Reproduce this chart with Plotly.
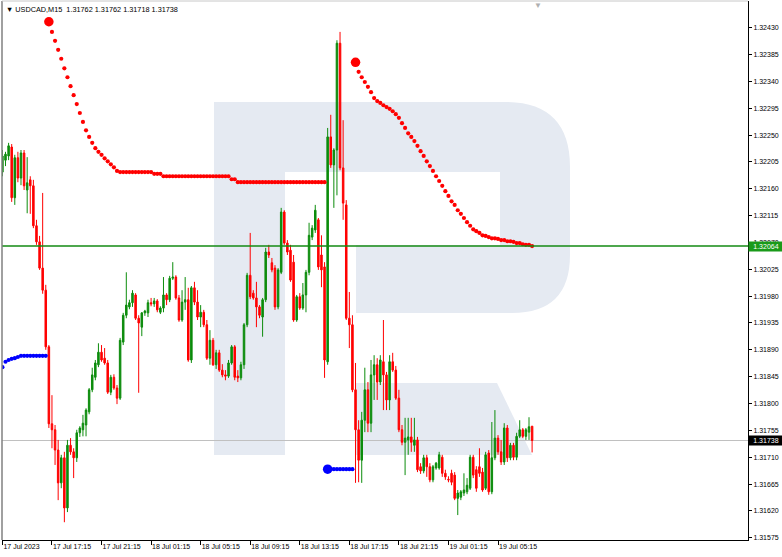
import pandas as pd
import plotly.graph_objects as go

symbol = "USDCAD,M15"
first_bar = "2023-07-17 13:15"
bar_minutes = 15

opens = [
    1.32188, 1.32208, 1.32215, 1.32230, 1.32145, 1.32212, 1.32178, 1.32220, 1.32158, 1.32175,
    1.32165, 1.32098, 1.32071, 1.32027, 1.31990, 1.31895, 1.31766, 1.31756, 1.31722, 1.31667,
    1.31709, 1.31625, 1.31730, 1.31719, 1.31709, 1.31751, 1.31756, 1.31764, 1.31786, 1.31823,
    1.31844, 1.31865, 1.31886, 1.31876, 1.31868, 1.31819, 1.31844, 1.31826, 1.31809, 1.31903,
    1.31948, 1.31962, 1.31969, 1.31982, 1.31943, 1.31928, 1.31952, 1.31952, 1.31969, 1.31967,
    1.31972, 1.31953, 1.31960, 1.31982, 1.31974, 1.32010, 1.32012, 1.31977, 1.31940, 1.31970,
    1.31974, 1.31873, 1.31994, 1.31970, 1.31945, 1.31953, 1.31932, 1.31876, 1.31906, 1.31865,
    1.31885, 1.31856, 1.31848, 1.31846, 1.31868, 1.31895, 1.31846, 1.31843, 1.31865, 1.31932,
    1.32015, 1.31985, 1.31977, 1.31962, 1.31945, 1.31974, 1.32054, 1.32036, 1.32027, 1.31962,
    1.32020, 1.32121, 1.32069, 1.32057, 1.32037, 1.31940, 1.31979, 1.31960, 1.31982, 1.32020,
    1.32079, 1.32091, 1.32108, 1.32049, 1.32029, 1.31870, 1.32247, 1.32200, 1.32225, 1.32404,
    1.32195, 1.32133, 1.31943, 1.31932, 1.31823, 1.31756, 1.31705, 1.31772, 1.31823, 1.31767,
    1.31848, 1.31865, 1.31836, 1.31870, 1.31848, 1.31806, 1.31870, 1.31856, 1.31809, 1.31756,
    1.31735, 1.31739, 1.31744, 1.31730, 1.31739, 1.31694, 1.31687, 1.31709, 1.31694, 1.31672,
    1.31692, 1.31692, 1.31710, 1.31683, 1.31673, 1.31683, 1.31680, 1.31641, 1.31643, 1.31650,
    1.31652, 1.31658, 1.31710, 1.31689, 1.31694, 1.31685, 1.31658, 1.31717, 1.31652, 1.31709,
    1.31742, 1.31719, 1.31702, 1.31759, 1.31709, 1.31730, 1.31710, 1.31745, 1.31756, 1.31745,
    1.31752, 1.31762,
]
highs = [
    1.32225, 1.32222, 1.32237, 1.32235, 1.32217, 1.32222, 1.32225, 1.32225, 1.32213, 1.32181,
    1.32175, 1.32108, 1.32081, 1.32153, 1.31999, 1.31898, 1.31814, 1.31764, 1.31739, 1.31714,
    1.31719, 1.31739, 1.31742, 1.31725, 1.31756, 1.31762, 1.31781, 1.31792, 1.31826, 1.31860,
    1.31873, 1.31901, 1.31898, 1.31893, 1.31873, 1.31848, 1.31849, 1.31831, 1.31910, 1.31952,
    1.32020, 1.31974, 1.31990, 1.31985, 1.31948, 1.31953, 1.31957, 1.31974, 1.31977, 1.31977,
    1.31975, 1.31963, 1.32012, 1.31985, 1.32014, 1.32037, 1.32015, 1.31982, 1.31990, 1.32012,
    1.31994, 1.31997, 1.32004, 1.31990, 1.31965, 1.31957, 1.31940, 1.31923, 1.31910, 1.31890,
    1.31890, 1.31866, 1.31856, 1.31873, 1.31898, 1.31898, 1.31856, 1.31870, 1.31935, 1.32019,
    1.32086, 1.31990, 1.32004, 1.31965, 1.31977, 1.32061, 1.32066, 1.32044, 1.32032, 1.32027,
    1.32128, 1.32124, 1.32074, 1.32066, 1.32049, 1.31982, 1.31985, 1.32002, 1.32024, 1.32103,
    1.32099, 1.32133, 1.32111, 1.32082, 1.32037, 1.32262, 1.32284, 1.32228, 1.32409, 1.32423,
    1.32275, 1.32141, 1.31987, 1.31948, 1.31868, 1.31772, 1.31786, 1.31860, 1.31836, 1.31873,
    1.31881, 1.31876, 1.31881, 1.31940, 1.31853, 1.31881, 1.31885, 1.31863, 1.31823, 1.31764,
    1.31776, 1.31776, 1.31776, 1.31776, 1.31744, 1.31700, 1.31714, 1.31714, 1.31700, 1.31697,
    1.31702, 1.31719, 1.31714, 1.31689, 1.31678, 1.31689, 1.31685, 1.31655, 1.31655, 1.31683,
    1.31675, 1.31714, 1.31714, 1.31695, 1.31725, 1.31692, 1.31719, 1.31722, 1.31769, 1.31789,
    1.31747, 1.31739, 1.31767, 1.31764, 1.31734, 1.31734, 1.31751, 1.31772, 1.31759, 1.31759,
    1.31777, 1.31762,
]
lows = [
    1.32181, 1.32198, 1.32208, 1.32138, 1.32133, 1.32171, 1.32166, 1.32158, 1.32119, 1.32118,
    1.32094, 1.32066, 1.32024, 1.31984, 1.31890, 1.31759, 1.31725, 1.31697, 1.31638, 1.31658,
    1.31601, 1.31618, 1.31714, 1.31675, 1.31702, 1.31744, 1.31745, 1.31745, 1.31782, 1.31819,
    1.31839, 1.31861, 1.31870, 1.31865, 1.31816, 1.31814, 1.31823, 1.31799, 1.31806, 1.31898,
    1.31943, 1.31958, 1.31962, 1.31940, 1.31818, 1.31913, 1.31947, 1.31945, 1.31963, 1.31962,
    1.31953, 1.31950, 1.31953, 1.31965, 1.31970, 1.32007, 1.31974, 1.31937, 1.31937, 1.31957,
    1.31870, 1.31868, 1.31965, 1.31940, 1.31928, 1.31928, 1.31873, 1.31865, 1.31863, 1.31858,
    1.31853, 1.31844, 1.31839, 1.31843, 1.31865, 1.31839, 1.31836, 1.31839, 1.31858, 1.31928,
    1.31975, 1.31974, 1.31928, 1.31943, 1.31912, 1.31970, 1.32044, 1.32020, 1.31957, 1.31958,
    1.32017, 1.32066, 1.32049, 1.32004, 1.31937, 1.31937, 1.31957, 1.31957, 1.31953, 1.32015,
    1.32074, 1.32086, 1.32024, 1.31995, 1.31843, 1.31865, 1.32195, 1.32128, 1.32149, 1.32191,
    1.32108, 1.31940, 1.31893, 1.31819, 1.31667, 1.31668, 1.31667, 1.31752, 1.31752, 1.31752,
    1.31806, 1.31806, 1.31831, 1.31789, 1.31789, 1.31789, 1.31853, 1.31806, 1.31752, 1.31730,
    1.31680, 1.31714, 1.31719, 1.31719, 1.31685, 1.31682, 1.31683, 1.31677, 1.31668, 1.31668,
    1.31689, 1.31689, 1.31677, 1.31672, 1.31668, 1.31663, 1.31638, 1.31613, 1.31638, 1.31645,
    1.31648, 1.31655, 1.31675, 1.31652, 1.31677, 1.31652, 1.31655, 1.31647, 1.31648, 1.31705,
    1.31714, 1.31697, 1.31697, 1.31702, 1.31705, 1.31705, 1.31705, 1.31742, 1.31742, 1.31739,
    1.31739, 1.31718,
]
closes = [
    1.32215, 1.32218, 1.32232, 1.32145, 1.32212, 1.32178, 1.32220, 1.32165, 1.32170, 1.32165,
    1.32098, 1.32071, 1.32027, 1.31990, 1.31895, 1.31766, 1.31756, 1.31722, 1.31667, 1.31709,
    1.31625, 1.31730, 1.31719, 1.31709, 1.31751, 1.31759, 1.31767, 1.31789, 1.31823, 1.31848,
    1.31868, 1.31886, 1.31873, 1.31868, 1.31819, 1.31844, 1.31826, 1.31809, 1.31906, 1.31948,
    1.31965, 1.31969, 1.31985, 1.31943, 1.31935, 1.31952, 1.31955, 1.31969, 1.31967, 1.31972,
    1.31957, 1.31960, 1.31982, 1.31974, 1.32010, 1.32012, 1.31977, 1.31940, 1.31970, 1.31974,
    1.31873, 1.31994, 1.31970, 1.31945, 1.31953, 1.31932, 1.31876, 1.31906, 1.31865, 1.31885,
    1.31856, 1.31848, 1.31846, 1.31868, 1.31895, 1.31844, 1.31843, 1.31865, 1.31932, 1.32015,
    1.31979, 1.31977, 1.31962, 1.31948, 1.31974, 1.32054, 1.32049, 1.32024, 1.31962, 1.32024,
    1.32121, 1.32069, 1.32054, 1.32007, 1.31940, 1.31979, 1.31960, 1.31982, 1.32020, 1.32082,
    1.32094, 1.32124, 1.32029, 1.32024, 1.31873, 1.32247, 1.32200, 1.32225, 1.32404, 1.32195,
    1.32136, 1.31943, 1.31932, 1.31823, 1.31756, 1.31705, 1.31772, 1.31823, 1.31767, 1.31848,
    1.31865, 1.31836, 1.31873, 1.31848, 1.31806, 1.31870, 1.31856, 1.31809, 1.31756, 1.31735,
    1.31742, 1.31744, 1.31735, 1.31739, 1.31689, 1.31687, 1.31709, 1.31694, 1.31672, 1.31694,
    1.31700, 1.31714, 1.31683, 1.31677, 1.31672, 1.31668, 1.31641, 1.31650, 1.31652, 1.31655,
    1.31663, 1.31710, 1.31680, 1.31658, 1.31683, 1.31655, 1.31714, 1.31652, 1.31709, 1.31742,
    1.31719, 1.31702, 1.31759, 1.31709, 1.31730, 1.31710, 1.31745, 1.31756, 1.31745, 1.31756,
    1.31761, 1.31738,
]

# Parabolic SAR segments: (first bar index, values)
sar_below_1_start = 0
sar_below_1 = [1.31861, 1.31870, 1.31873, 1.31875, 1.31876, 1.31878, 1.31880, 1.31880,
               1.31880, 1.31880, 1.31880, 1.31880, 1.31880, 1.31880, 1.31880]
sar_above_1_start = 15
sar_above_1 = [
    1.32440, 1.32423, 1.32408, 1.32393, 1.32378, 1.32362, 1.32347, 1.32332, 1.32317, 1.32302,
    1.32287, 1.32272, 1.32258, 1.32247, 1.32237, 1.32228, 1.32222, 1.32217, 1.32211, 1.32206,
    1.32201, 1.32196, 1.32190,
    1.32188, 1.32188, 1.32188, 1.32188, 1.32188, 1.32188, 1.32188, 1.32188, 1.32188, 1.32188, 1.32188,
    1.32185, 1.32185, 1.32185,
    1.32181, 1.32181, 1.32181, 1.32181, 1.32181, 1.32181, 1.32181, 1.32181, 1.32181, 1.32181, 1.32181,
    1.32181, 1.32181, 1.32181, 1.32181, 1.32181, 1.32181, 1.32181, 1.32181, 1.32181, 1.32181, 1.32181,
    1.32176, 1.32176,
    1.32171, 1.32171, 1.32171, 1.32171, 1.32171, 1.32171, 1.32171, 1.32171, 1.32171, 1.32171,
    1.32171, 1.32171, 1.32171, 1.32171, 1.32171, 1.32171, 1.32171, 1.32171, 1.32171, 1.32171,
    1.32171, 1.32171, 1.32171, 1.32171, 1.32171, 1.32171, 1.32171, 1.32171, 1.32171,
]
sar_below_2_start = 105
sar_below_2 = [1.31690, 1.31690, 1.31690, 1.31690, 1.31690, 1.31690, 1.31690, 1.31690, 1.31690]
sar_above_2_start = 114
sar_above_2 = [
    1.32372, 1.32356, 1.32347, 1.32339, 1.32331, 1.32322, 1.32312, 1.32307, 1.32304, 1.32300,
    1.32297, 1.32294, 1.32290, 1.32285, 1.32279, 1.32270, 1.32262, 1.32253, 1.32247, 1.32240,
    1.32232, 1.32223, 1.32215, 1.32206, 1.32198, 1.32190, 1.32181, 1.32173, 1.32165, 1.32156,
    1.32148, 1.32139, 1.32133, 1.32124, 1.32118, 1.32111, 1.32104, 1.32098, 1.32092, 1.32089,
    1.32086, 1.32082, 1.32081, 1.32079, 1.32077, 1.32077, 1.32076, 1.32074, 1.32074, 1.32072,
    1.32072, 1.32071, 1.32069, 1.32069, 1.32067, 1.32066, 1.32066, 1.32064,
]

level_price = 1.32064

tick_times = ["2023-07-17 13:15", "2023-07-17 17:15", "2023-07-17 21:15", "2023-07-18 01:15",
              "2023-07-18 05:15", "2023-07-18 09:15", "2023-07-18 13:15", "2023-07-18 17:15",
              "2023-07-18 21:15", "2023-07-19 01:15", "2023-07-19 05:15"]
tick_labels = ["17 Jul 2023", "17 Jul 17:15", "17 Jul 21:15", "18 Jul 01:15", "18 Jul 05:15",
               "18 Jul 09:15", "18 Jul 13:15", "18 Jul 17:15", "18 Jul 21:15", "19 Jul 01:15",
               "19 Jul 05:15"]
price_ticks = [1.31575, 1.31620, 1.31665, 1.31710, 1.31755, 1.31800, 1.31845, 1.31890, 1.31935,
               1.31980, 1.32025, 1.32070, 1.32115, 1.32160, 1.32205, 1.32250, 1.32295, 1.32340,
               1.32385, 1.32430]

# ---------------------------------------------------------------- styling
GREEN = "#0C8C0C"
RED = "#FF0000"
BLUE = "#0000FF"
FONT = "Liberation Sans"
W, H = 782, 557
ML, MR, MT, MB = 2, 34, 1, 17
PW, PH = W - ML - MR, H - MT - MB

times = pd.date_range(first_bar, periods=len(opens), freq=f"{bar_minutes}min")
step = pd.Timedelta(minutes=bar_minutes)
x_range = [times[0] - step * 0.13, times[0] + step * 240.7]
y_range = [1.315712, 1.324748]

fig = go.Figure()
fig.add_trace(go.Candlestick(
    x=times, open=opens, high=highs, low=lows, close=closes,
    increasing=dict(line=dict(color=GREEN, width=1), fillcolor=GREEN),
    decreasing=dict(line=dict(color=RED, width=1), fillcolor=RED),
    whiskerwidth=0, showlegend=False, hoverinfo="skip",
))


def sar_trace(start, values, color, big):
    sizes = [4.2] * len(values)
    if big:
        sizes[0] = 9.5
    return go.Scatter(x=times[start:start + len(values)], y=values, mode="markers",
                      marker=dict(color=color, size=sizes, opacity=1, line=dict(width=0)),
                      showlegend=False, hoverinfo="skip")


fig.add_trace(sar_trace(sar_below_1_start, sar_below_1, BLUE, False))
fig.add_trace(sar_trace(sar_above_1_start, sar_above_1, RED, True))
fig.add_trace(sar_trace(sar_below_2_start, sar_below_2, BLUE, True))
fig.add_trace(sar_trace(sar_above_2_start, sar_above_2, RED, True))


def px(x):
    return (x - ML) / PW


def py(y):
    return 1 - (y - MT) / PH


def pt(x, y):
    return f"{px(x):.5f},{py(y):.5f}"


WM = "#E5EAF2"
shapes = [
    dict(type="rect", xref="paper", yref="paper", x0=px(214), x1=px(285), y0=py(455), y1=py(102),
         fillcolor=WM, line=dict(width=0), layer="below"),
    dict(type="path", xref="paper", yref="paper", layer="below", fillcolor=WM, line=dict(width=0),
         path=(f"M {pt(214,102)} L {pt(505,102)} Q {pt(570,102)} {pt(570,167)} L {pt(570,255)} "
               f"Q {pt(570,313)} {pt(512,313)} L {pt(356,313)} L {pt(356,245)} L {pt(500,245)} "
               f"L {pt(500,172)} L {pt(214,172)} Z")),
    dict(type="path", xref="paper", yref="paper", layer="below", fillcolor=WM, line=dict(width=0),
         path=f"M {pt(356,383)} L {pt(497,383)} L {pt(532,455)} L {pt(356,455)} Z"),
    dict(type="line", xref="paper", yref="y", x0=0, x1=1, y0=closes[-1], y1=closes[-1],
         line=dict(color="#C0C0C0", width=1), layer="below"),
    dict(type="line", xref="paper", yref="y", x0=0, x1=1, y0=level_price, y1=level_price,
         line=dict(color="#138A13", width=1.5), layer="above"),
    dict(type="line", xref="paper", yref="paper", x0=0, x1=0, y0=0, y1=1,
         line=dict(color="#808080", width=1.5)),
    dict(type="line", xref="paper", yref="paper", x0=0, x1=1, y0=1, y1=1,
         line=dict(color="#C8C8C8", width=1)),
]

header = (f"▼ {symbol}  {opens[-1]:.5f} {highs[-1]:.5f} {lows[-1]:.5f} {closes[-1]:.5f}")
annotations = [
    dict(xref="paper", yref="paper", x=0, y=1, xanchor="left", yanchor="top", xshift=2, yshift=-2,
         text=header, showarrow=False, font=dict(family=FONT, size=7.3, color="black")),
    dict(xref="paper", yref="y", x=1, y=level_price, xanchor="left", yanchor="middle",
         text=f"{level_price:.5f}", showarrow=False, bgcolor="#1A9A1A", borderpad=1, width=32,
         font=dict(family=FONT, size=7, color="white")),
    dict(xref="paper", yref="y", x=1, y=closes[-1], xanchor="left", yanchor="middle",
         text=f"{closes[-1]:.5f}", showarrow=False, bgcolor="black", borderpad=1, width=32,
         font=dict(family=FONT, size=7, color="white")),
    dict(xref="paper", yref="paper", x=px(538), y=1, xanchor="center", yanchor="top", yshift=2,
         text="▼", showarrow=False, font=dict(family=FONT, size=8, color="#B0B0B0")),
]

fig.update_layout(
    width=W, height=H, margin=dict(l=ML, r=MR, t=MT, b=MB),
    plot_bgcolor="white", paper_bgcolor="white",
    shapes=shapes, annotations=annotations, showlegend=False,
    font=dict(family=FONT, size=7, color="black"),
    xaxis=dict(type="date", range=x_range, tickvals=tick_times, ticktext=tick_labels,
               ticks="outside", ticklen=4, tickcolor="black", ticklabelposition="outside right",
               showgrid=False, zeroline=False, showline=True, linecolor="black", linewidth=1,
               rangeslider=dict(visible=False), tickfont=dict(family=FONT, size=7)),
    yaxis=dict(side="right", range=y_range, tickvals=price_ticks,
               ticktext=[f"{v:.5f}" for v in price_ticks], ticks="outside", ticklen=3,
               tickcolor="black", showgrid=False, zeroline=False, showline=True,
               linecolor="black", linewidth=1, tickfont=dict(family=FONT, size=7)),
)

fig.write_html(
    "out.html",
    config={"displayModeBar": False, "staticPlot": True},
    post_script="document.body.style.margin='0';document.body.style.overflow='hidden';",
)
